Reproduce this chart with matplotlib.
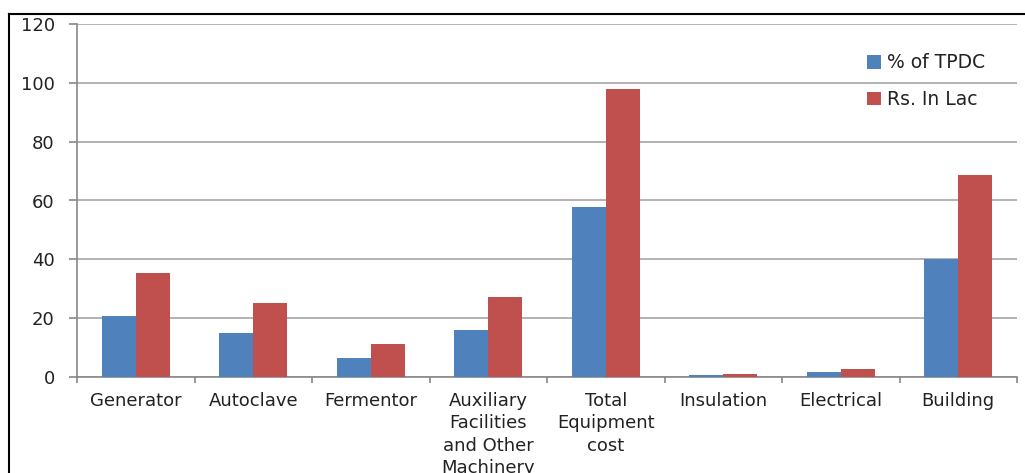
import numpy as np
import matplotlib.pyplot as plt
from matplotlib.lines import Line2D

categories = ["Generator", "Autoclave", "Fermentor",
              "Auxiliary\nFacilities\nand Other\nMachinery",
              "Total\nEquipment\ncost", "Insulation", "Electrical", "Building"]
pct_tpdc = [20.6, 14.9, 6.4, 16.0, 57.7, 0.6, 1.7, 40.1]
rs_lac = [35.2, 25.0, 11.2, 27.1, 97.9, 0.9, 2.8, 68.6]
yticks = [0, 20, 40, 60, 80, 100, 120]

plt.rcParams['font.family'] = ['DejaVu Sans']

fig = plt.figure(figsize=(10.25, 4.73), dpi=100)
ax = fig.add_axes([77/1025, 1-377/473, 940/1025, 353/473])

x = np.arange(len(categories))
w = 0.29
ax.bar(x - w/2, pct_tpdc, w, color="#4F81BD", label="% of TPDC", zorder=3)
ax.bar(x + w/2, rs_lac, w, color="#C0504D", label="Rs. In Lac", zorder=3)

ax.set_xlim(-0.5, len(categories) - 0.5)
ax.set_ylim(0, 120)
ax.set_yticks(yticks)
ax.set_yticklabels([str(t) for t in yticks], fontsize=13, color="#222222")
ax.yaxis.grid(True, color="#a6a6a6", lw=1.2, zorder=0)

# category ticks at boundaries, labels centered
ax.set_xticks(np.arange(len(categories) + 1) - 0.5)
ax.set_xticklabels([])
ax.set_xticks(x, minor=True)
ax.set_xticklabels(categories, minor=True, fontsize=13, color="#222222",
                   linespacing=1.3, va="top")
ax.tick_params(axis="x", which="minor", length=0, pad=11)
ax.tick_params(axis="x", which="major", length=4, color="#888888", width=1.2)
ax.tick_params(axis="y", length=6, color="#888888", width=1.2, pad=10)

for s in ["top", "right"]:
    ax.spines[s].set_visible(False)
for s in ["left", "bottom"]:
    ax.spines[s].set_color("#888888")
    ax.spines[s].set_linewidth(1.2)

ax.legend(loc="upper left", bbox_to_anchor=(0.822, 0.965), frameon=False,
          fontsize=13.5, handlelength=0.75, handleheight=0.75,
          handletextpad=0.35, labelspacing=0.95, labelcolor="#222222")

# outer chart border (cropped)
fig.add_artist(Line2D([9/1025, 9/1025], [0, 1-14/473], color="black", lw=1.5))
fig.add_artist(Line2D([9/1025, 1], [1-14/473, 1-14/473], color="black", lw=1.5))

fig.savefig("out.png", dpi=100)
